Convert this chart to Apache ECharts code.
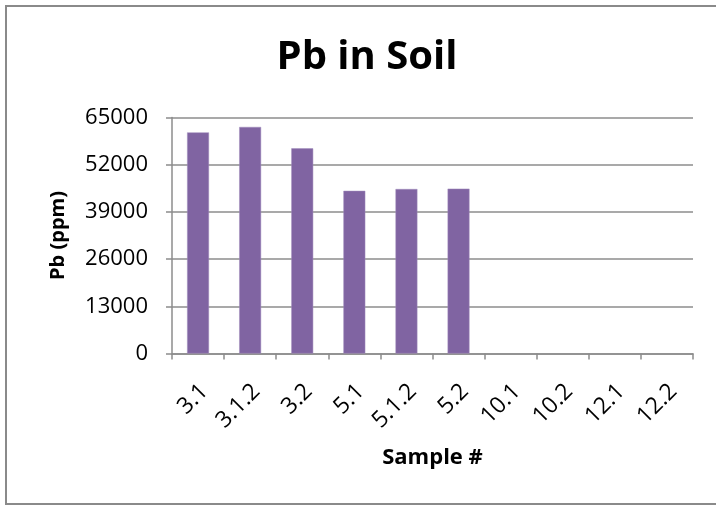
<!DOCTYPE html>
<html>
<head>
<meta charset="utf-8">
<script src="https://cdn.jsdelivr.net/npm/echarts@6/dist/echarts.min.js"></script>
<style>
html,body{margin:0;padding:0;background:#fff;}
#chart{width:716px;height:506px;}
</style>
</head>
<body>
<div id="chart"></div>
<script>
const categories = ['3.1', '3.1.2', '3.2', '5.1', '5.1.2', '5.2', '10.1', '10.2', '12.1', '12.2'];
const pbValues = [60900, 62400, 56500, 44800, 45300, 45400, null, null, null, null];
const yTicks = [0, 13000, 26000, 39000, 52000, 65000];

const FONT = '"Open Sans", Lato, sans-serif';
const chart = echarts.init(document.getElementById('chart'), null, {renderer: 'canvas'});
chart.setOption({
  backgroundColor: '#fff',
  animation: false,
  title: {
    text: 'Pb in Soil',
    left: 362,
    textAlign: 'center',
    top: 33,
    textStyle: {fontFamily: FONT, fontWeight: 'bold', fontSize: 40, color: '#000'}
  },
  graphic: [{
    type: 'rect',
    shape: {x: 6, y: 6, width: 720, height: 498},
    style: {fill: 'none', stroke: '#8a8a8a', lineWidth: 2},
    silent: true
  }],
  grid: {left: 172, right: 23, top: 117.5, bottom: 152.5, containLabel: false},
  xAxis: {
    type: 'category',
    data: categories,
    name: 'Sample #',
    nameLocation: 'middle',
    nameGap: 93,
    nameTextStyle: {fontFamily: FONT, fontWeight: 'bold', fontSize: 22, color: '#000'},
    axisLine: {lineStyle: {color: '#8c8c8c', width: 1.5}},
    axisTick: {show: true, length: 6, lineStyle: {color: '#8c8c8c', width: 1.5}},
    axisLabel: {rotate: 45, margin: 28, verticalAlign: 'top', lineHeight: 18, fontFamily: FONT, fontSize: 23, color: '#000', interval: 0}
  },
  yAxis: {
    type: 'value',
    min: yTicks[0],
    max: yTicks[yTicks.length - 1],
    interval: yTicks[1] - yTicks[0],
    name: 'Pb (ppm)',
    nameLocation: 'middle',
    nameGap: 104,
    nameTextStyle: {fontFamily: FONT, fontWeight: 'bold', fontSize: 20, color: '#000'},
    axisLine: {show: true, lineStyle: {color: '#8c8c8c', width: 1.5}},
    axisTick: {show: true, length: 6, inside: false, lineStyle: {color: '#8c8c8c', width: 1.5}},
    axisLabel: {margin: 24, fontFamily: FONT, fontSize: 22, color: '#000', formatter: function (v) { return String(v); }},
    splitLine: {lineStyle: {color: '#8c8c8c', width: 1.5}}
  },
  series: [{
    type: 'bar',
    data: pbValues,
    barWidth: '42%',
    itemStyle: {color: '#8064A2', borderColor: '#a08cbc', borderWidth: 0.5}
  }]
});
</script>
</body>
</html>
